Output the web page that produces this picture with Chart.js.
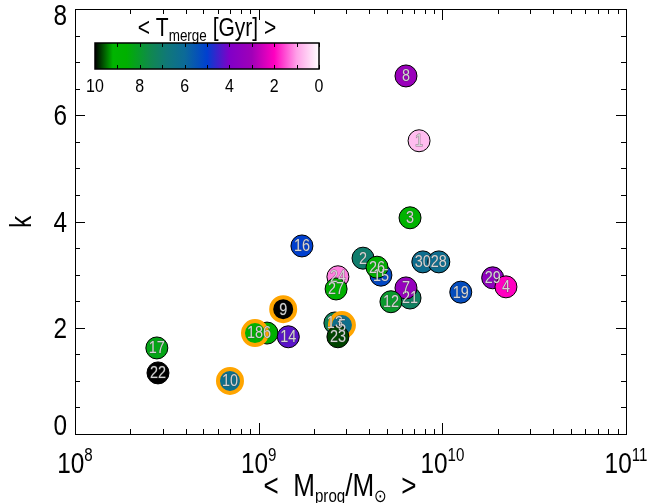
<!DOCTYPE html>
<html>
<head>
<meta charset="utf-8">
<script src="https://cdn.jsdelivr.net/npm/chart.js@4"></script>
<style>
  html, body { margin: 0; padding: 0; background: #fff; }
  #wrap { width: 671px; height: 503px; }
</style>
</head>
<body>
<div id="wrap"><canvas id="chart" width="671" height="503"></canvas></div>
<script>
// ================== DATA ==================
// draw order = stacking order (later points sit on top)
const pointLabels = ["22","17","10","6","18","14","9","16","24","27","13","5","23","2","15","26","21","7","12","3","1","8","30","28","19","29","4"];
const progMass = [2.83e8,2.79e8,6.98e8,1.11e9,9.55e8,1.45e9,1.36e9,1.72e9,2.70e9,2.64e9,2.60e9,2.84e9,2.70e9,3.70e9,4.63e9,4.41e9,6.67e9,6.34e9,5.25e9,6.67e9,7.47e9,6.34e9,7.83e9,9.57e9,1.26e10,1.88e10,2.22e10];
const kValues = [1.15,1.62,1.00,1.90,1.90,1.83,2.35,3.54,2.96,2.73,2.09,2.05,1.83,3.31,2.99,3.14,2.56,2.75,2.49,4.07,5.52,6.74,3.24,3.24,2.67,2.94,2.77];
const tMerge = [10,8.3,6.3,8.8,8.8,4.3,10,5.0,1.2,8.7,7.3,6.3,9.7,7.0,5.2,8.7,7.2,3.3,8.0,9.0,0.7,3.2,6.2,6.2,5.3,3.5,2.0];
const flagged = ["10","18","9","5"];

const xTickExps = [8, 9, 10, 11];
const yTicks = [0, 2, 4, 6, 8];
const cbarTicks = [10, 8, 6, 4, 2, 0];

// ================== COLOUR MAP ==================
const cmapStops = [
  [10, [0, 0, 0]],
  [9.2, [0, 180, 0]],
  [8.6, [0, 176, 0]],
  [7.5, [16, 136, 80]],
  [6.8, [16, 120, 120]],
  [6.0, [12, 106, 152]],
  [5.0, [0, 64, 208]],
  [4.0, [128, 0, 200]],
  [3.0, [160, 0, 184]],
  [2.0, [255, 0, 192]],
  [1.0, [255, 160, 232]],
  [0, [255, 255, 255]],
];

function tColor(t) {
  for (let i = 0; i < cmapStops.length - 1; i++) {
    const [t0, c0] = cmapStops[i];
    const [t1, c1] = cmapStops[i + 1];
    if (t <= t0 && t >= t1) {
      const f = (t0 - t) / (t0 - t1);
      const c = c0.map((v, j) => Math.round(v + (c1[j] - v) * f));
      return `rgb(${c[0]},${c[1]},${c[2]})`;
    }
  }
  return "#fff";
}

// ================== HELPERS ==================
const FONT = '"Liberation Sans", Arial, sans-serif';
const SX = 0.84; // plot font is a bit condensed

function richText(ctx, parts, x, y, align) {
  let w = 0;
  parts.forEach(p => {
    ctx.font = `${p[1]}px ${FONT}`;
    w += ctx.measureText(p[0]).width * SX;
  });
  let cx = align === "center" ? x - w / 2 : align === "right" ? x - w : x;
  ctx.textAlign = "left";
  ctx.textBaseline = "alphabetic";
  parts.forEach(p => {
    ctx.font = `${p[1]}px ${FONT}`;
    const pw = ctx.measureText(p[0]).width * SX;
    ctx.save();
    ctx.translate(cx, y + p[2]);
    ctx.scale(SX, 1);
    ctx.fillText(p[0], 0, 0);
    ctx.restore();
    cx += pw;
  });
}

// ================== FRAME / AXES / COLORBAR ==================
const framePlugin = {
  id: "frame",
  beforeDatasetsDraw(chart) {
    const { ctx, chartArea: a, scales } = chart;
    const xs = scales.x, ys = scales.y;
    ctx.save();
    ctx.strokeStyle = "#000";
    ctx.lineWidth = 1;
    ctx.strokeRect(Math.round(a.left) + 0.5, Math.round(a.top) + 0.5, Math.round(a.width), Math.round(a.height));

    ctx.beginPath();
    // x ticks (log, minor at 2..9)
    for (let e = 8; e <= 11; e++) {
      for (let m = 1; m <= 9; m++) {
        const v = m * Math.pow(10, e);
        if (v > 1e11) break;
        const px = Math.round(xs.getPixelForValue(v)) + 0.5;
        const len = m === 1 ? 11 : 5;
        ctx.moveTo(px, a.bottom); ctx.lineTo(px, a.bottom - len);
        ctx.moveTo(px, a.top); ctx.lineTo(px, a.top + len);
      }
    }
    // y ticks (major 2, minor 0.5)
    for (let v = 0; v <= 8; v += 0.5) {
      const py = Math.round(ys.getPixelForValue(v)) + 0.5;
      const len = v % 2 === 0 ? 10 : 5;
      ctx.moveTo(a.left, py); ctx.lineTo(a.left + len, py);
      ctx.moveTo(a.right, py); ctx.lineTo(a.right - len, py);
    }
    ctx.stroke();

    // colour bar
    const cb = { left: 95, right: 319, top: 43, bottom: 69 };
    const g = ctx.createLinearGradient(cb.left, 0, cb.right, 0);
    cmapStops.forEach(([t]) => g.addColorStop((10 - t) / 10, tColor(t)));
    ctx.fillStyle = g;
    ctx.fillRect(cb.left, cb.top, cb.right - cb.left, cb.bottom - cb.top);
    ctx.lineWidth = 1.5;
    ctx.strokeRect(cb.left, cb.top, cb.right - cb.left, cb.bottom - cb.top);
    ctx.lineWidth = 1;
    ctx.beginPath();
    for (let t = 10; t >= 0; t--) {
      const px = Math.round(cb.left + (10 - t) / 10 * (cb.right - cb.left)) + 0.5;
      ctx.moveTo(px, cb.top); ctx.lineTo(px, cb.top + 4);
      ctx.moveTo(px, cb.bottom); ctx.lineTo(px, cb.bottom - 4);
    }
    ctx.stroke();

    ctx.fillStyle = "#000";
    cbarTicks.forEach(t => {
      const px = cb.left + (10 - t) / 10 * (cb.right - cb.left);
      richText(ctx, [[String(t), 19, 0]], px, 92, "center");
    });
    richText(ctx, [["< T", 25, 0], ["merge", 16, 5], [" [Gyr] >", 25, 0]], 207, 36, "center");

    // axis labels
    xTickExps.forEach(e => {
      const px = xs.getPixelForValue(Math.pow(10, e));
      richText(ctx, [["10", 29, 0], [String(e), 18, -12]], px, 473, "center");
    });
    yTicks.forEach(v => {
      const py = Math.min(Math.max(ys.getPixelForValue(v), 15), 425);
      richText(ctx, [[String(v), 29, 0]], 67, py + 10, "right");
    });
    richText(ctx, [["<  M", 31, 0], ["prog", 18, 6], ["/M", 31, 0], ["\u2299", 18, 6], ["  >", 31, 0]], 340, 496, "center");

    ctx.save();
    ctx.translate(31, 222);
    ctx.rotate(-Math.PI / 2);
    richText(ctx, [["k", 29, 0]], 0, 0, "center");
    ctx.restore();
    ctx.restore();
  },
  afterDatasetsDraw(chart) {
    const { ctx } = chart;
    const meta = chart.getDatasetMeta(0);
    ctx.save();
    ctx.font = `16px ${FONT}`;
    ctx.textAlign = "center";
    ctx.textBaseline = "middle";
    ctx.lineWidth = 1;
    ctx.strokeStyle = "rgba(70,70,70,0.55)";
    ctx.fillStyle = "#d4d4d4";
    meta.data.forEach((pt, i) => {
      ctx.save();
      ctx.translate(pt.x, pt.y + 1);
      ctx.scale(0.9, 1);
      ctx.strokeText(pointLabels[i], 0, 0);
      ctx.fillText(pointLabels[i], 0, 0);
      ctx.restore();
    });
    ctx.restore();
  },
};

// ================== CHART ==================
const ctx = document.getElementById("chart").getContext("2d");
new Chart(ctx, {
  type: "scatter",
  data: {
    datasets: [{
      data: progMass.map((m, i) => ({ x: m, y: kValues[i] })),
      backgroundColor: tMerge.map(tColor),
      borderColor: pointLabels.map(l => flagged.includes(l) ? "#ffa500" : "#000"),
      borderWidth: pointLabels.map(l => flagged.includes(l) ? 4 : 1),
      pointRadius: pointLabels.map(l => flagged.includes(l) ? 12 : 11),
      pointHoverRadius: pointLabels.map(l => flagged.includes(l) ? 12 : 11),
    }],
  },
  options: {
    responsive: false,
    animation: false,
    devicePixelRatio: 1,
    layout: { autoPadding: false, padding: { left: 75, top: 9, right: 45, bottom: 69 } },
    plugins: { legend: { display: false }, tooltip: { enabled: false } },
    scales: {
      x: { type: "logarithmic", min: 1e8, max: 1e11, display: false },
      y: { min: 0, max: 8, display: false },
    },
  },
  plugins: [framePlugin],
});
</script>
</body>
</html>
